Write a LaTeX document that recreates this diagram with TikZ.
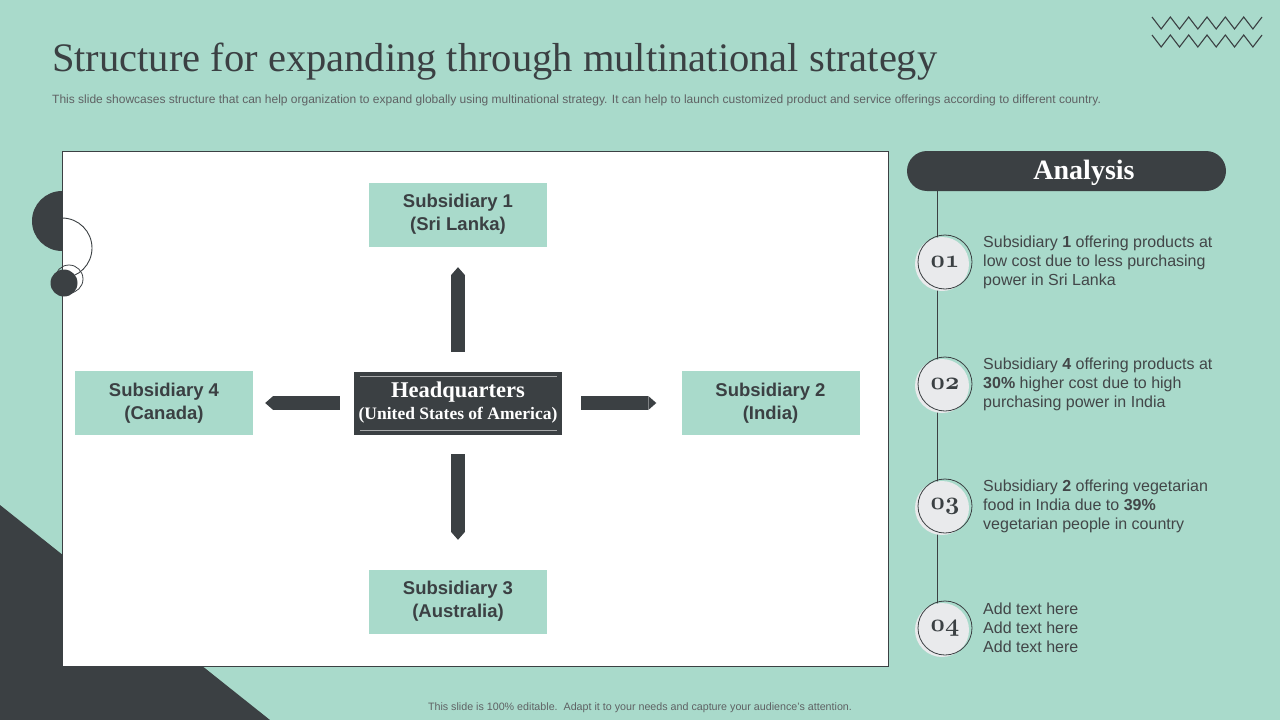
\documentclass[tikz,border=0pt]{standalone}
\usepackage{fontspec}
\setmainfont{Liberation Serif}
\setsansfont{Liberation Sans}
\usetikzlibrary{arrows.meta}
\definecolor{mint}{RGB}{169,218,203}
\definecolor{slate}{RGB}{59,64,67}
\definecolor{inkgrey}{RGB}{66,70,72}
\definecolor{ringfill}{RGB}{233,234,236}
\definecolor{notegrey}{RGB}{95,98,100}
\newcommand\oldnum[1]{{\usefont{OML}{cmm}{b}{it}#1}}

\begin{document}
\begin{tikzpicture}[x=1pt,y=-1pt,
  subbox/.style={fill=mint,minimum width=178pt,minimum height=64pt,inner sep=0pt,align=center,text=slate,font=\sffamily\bfseries\fontsize{18.5}{23}\selectfont},
  hqbox/.style={fill=slate,minimum width=208pt,minimum height=63pt,inner sep=0pt,align=center,text=white,font=\bfseries\fontsize{17.5}{22}\selectfont},
  flow/.style={slate,line width=14pt,-{Triangle[width=14pt,length=8pt,line width=0pt,round=false]}},
  numring/.style={circle,draw=slate,line width=0.8pt,minimum size=54pt,inner sep=0pt,text=slate,font=\fontsize{26}{26}\selectfont},
  note/.style={anchor=west,align=left,text=inkgrey,inner sep=0pt,font=\sffamily\fontsize{16}{19}\selectfont},
  zig/.style={slate,line width=1.1pt}]
  \fill[mint] (0,0) rectangle (1280,720);
  \useasboundingbox (0,0) rectangle (1280,720);
  \fill[slate] (0,505) -- (270,720) -- (0,720) -- cycle;
  \draw[zig] (1152,17) \foreach \i in {1,...,6} {-- ++(9.17,12) -- ++(9.17,-12)};
  \draw[zig] (1152,35) \foreach \i in {1,...,6} {-- ++(9.17,12) -- ++(9.17,-12)};
  \node[anchor=base west,inner sep=0pt,text=slate,font=\fontsize{40.5}{40}\selectfont] (title) at (52,71) {Structure for expanding through multinational strategy};
  \node[anchor=west,inner sep=0pt,text=notegrey,font=\sffamily\fontsize{12}{12}\selectfont] (intro) at (52,100) {This slide showcases structure that can help organization to expand globally using multinational strategy. It can help to launch customized product and service offerings according to different country.};

  \fill[slate] (62,221) circle[radius=30];
  \draw[slate,line width=0.8pt,fill=white] (62,151) rectangle (888,666);
  \draw[slate,line width=0.9pt] (62,218) arc[start angle=-90,end angle=90,radius=30];
  \fill[slate] (64,283) circle[radius=13.5];
  \draw[slate,line width=0.8pt] (69,279) circle[radius=14];

  \node[subbox] (sub1) at (458,214.5) {Subsidiary 1\\(Sri Lanka)};
  \node[subbox] (sub4) at (164,403) {Subsidiary 4\\(Canada)};
  \node[subbox] (sub2) at (770.5,403) {Subsidiary 2\\(India)};
  \node[subbox] (sub3) at (458,601.5) {Subsidiary 3\\(Australia)};
  \node[hqbox] (hq) at (458,403) {{\fontsize{22.5}{22}\selectfont Headquarters}\\(United States of America)};
  \draw[white!55!slate,line width=0.6pt] ([xshift=6pt,yshift=-5pt]hq.north west) -- ([xshift=-5pt,yshift=-5pt]hq.north east);
  \draw[white!55!slate,line width=0.6pt] ([xshift=6pt,yshift=4pt]hq.south west) -- ([xshift=-5pt,yshift=4pt]hq.south east);

  \draw[flow,shorten <=19.5pt,shorten >=20.5pt] (hq) -- (sub1);
  \draw[flow,shorten <=14pt,shorten >=12pt] (hq) -- (sub4);
  \draw[flow,shorten <=19pt,shorten >=25pt] (hq) -- (sub2);
  \draw[flow,shorten <=19.5pt,shorten >=29.5pt] (hq) -- (sub3);

  \node[fill=slate,rounded corners=20pt,minimum width=319pt,minimum height=40pt,inner sep=0pt] (ana) at (1066.5,171) {};
  \node[text=white,inner sep=0pt,font=\bfseries\fontsize{28}{28}\selectfont] (analbl) at (1084,173) {Analysis};
  \coordinate (lbot) at (937,628);
  \draw[slate,line width=0.8pt] (ana.south -| lbot) -- (lbot);

  \foreach \n/\y/\txt in {
    01/262/{Subsidiary \textbf{1} offering products at\\low cost due to less purchasing\\power in Sri Lanka},
    02/384/{Subsidiary \textbf{4} offering products at\\\textbf{30\%} higher cost due to high\\purchasing power in India},
    03/506/{Subsidiary \textbf{2} offering vegetarian\\food in India due to \textbf{39\%}\\vegetarian people in country},
    04/628/{Add text here\\Add text here\\Add text here}} {
    \fill[ringfill] (942,\y+2) circle[radius=27];
    \node[numring] (n\n) at (945,\y) {\oldnum{\n}};
    \node[note] (t\n) at (983,\y) {\txt};
  }

  \node[text=notegrey,inner sep=0pt,font=\sffamily\fontsize{10.7}{10.7}\selectfont] (foot) at (640,708) {This slide is 100\% editable.\ \ Adapt it to your needs and capture your audience's attention.};
\end{tikzpicture}
\end{document}
